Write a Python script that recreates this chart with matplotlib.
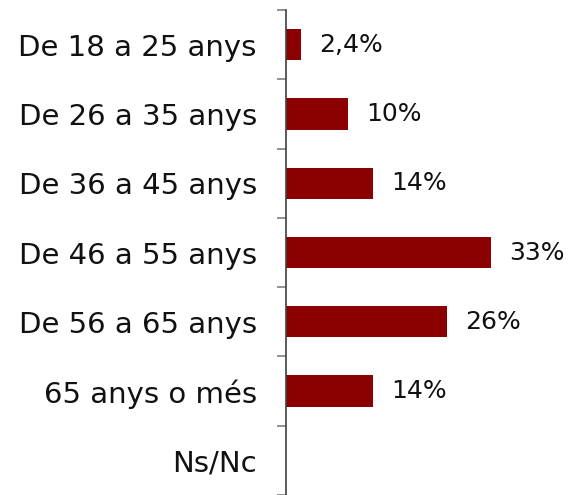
import numpy as np
import matplotlib.pyplot as plt

categories = ['De 18 a 25 anys', 'De 26 a 35 anys', 'De 36 a 45 anys',
              'De 46 a 55 anys', 'De 56 a 65 anys', '65 anys o més', 'Ns/Nc']
values = [2.4, 10, 14, 33, 26, 14, 0]
labels = ['2,4%', '10%', '14%', '33%', '26%', '14%', '']

plt.rcParams['font.family'] = ['DejaVu Sans']

fig = plt.figure(figsize=(5.69, 4.95), dpi=100)
ax = fig.add_axes([286 / 569, 0.0, 1 - 286 / 569, 1 - 10 / 495])

y = np.arange(len(categories))
ax.barh(y, values, height=0.45, color='#8b0000')

for yi, v, lab in zip(y, values, labels):
    if lab:
        ax.text(v + 2.9, yi, lab, va='center', ha='left', fontsize=18, color='#111111')

ax.set_xlim(0, 45.6)
ax.set_ylim(len(categories) - 0.5, -0.5)

ax.set_yticks(y)
ax.set_yticklabels(categories, fontsize=21, color='#111111')
ax.set_yticks(np.arange(len(categories) + 1) - 0.5, minor=True)
ax.tick_params(axis='y', which='major', length=0, pad=21)
ax.tick_params(axis='y', which='minor', length=6.5, width=1.2, color='#7f7f7f')
ax.set_xticks([])

for s in ['top', 'right', 'bottom']:
    ax.spines[s].set_visible(False)
ax.spines['left'].set_color('#404040')
ax.spines['left'].set_linewidth(1.2)

fig.savefig('out.png', dpi=100)
